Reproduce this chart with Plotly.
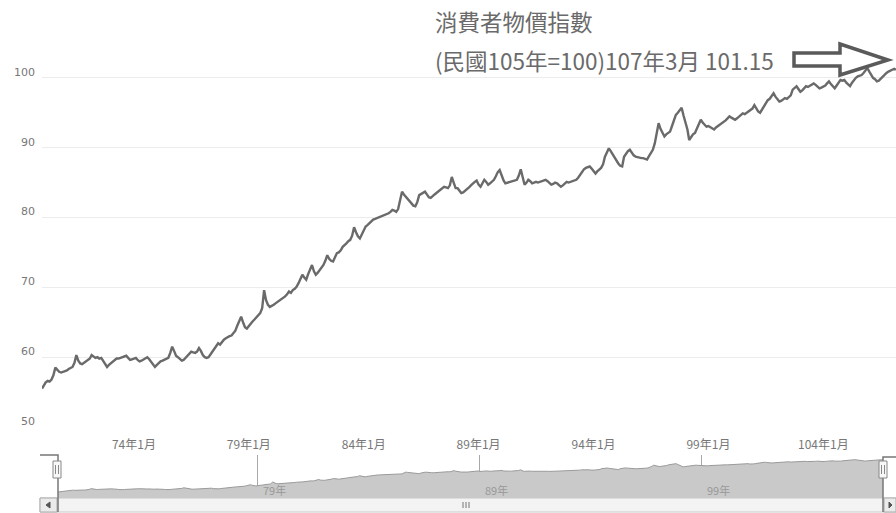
import pandas as pd
import plotly.graph_objects as go

# ---- data: monthly CPI (民國105年=100), 民國70年1月 .. 107年3月 ----
cpi_70 = [55.5, 55.9, 56.4, 56.6, 56.5, 56.8, 57.4, 58.5, 58.1, 57.9, 57.8, 57.9]
cpi_71 = [57.9, 58.1, 58.3, 58.4, 58.6, 59.2, 60.3, 59.5, 59.1, 59.0, 59.2, 59.4]
cpi_72 = [59.6, 59.8, 60.3, 60.1, 59.9, 60.0, 59.8, 59.9, 59.4, 59.0, 58.6, 58.9]
cpi_73 = [59.1, 59.4, 59.6, 59.8, 59.8, 59.9, 60.0, 60.1, 60.2, 59.9, 59.6, 59.7]
cpi_74 = [59.8, 59.9, 59.6, 59.4, 59.5, 59.7, 59.8, 60.0, 59.7, 59.3, 59.0, 58.6]
cpi_75 = [58.9, 59.2, 59.4, 59.5, 59.6, 59.7, 59.9, 60.6, 61.5, 60.9, 60.2, 60.0]
cpi_76 = [59.7, 59.5, 59.6, 59.9, 60.2, 60.5, 60.8, 60.7, 60.6, 60.8, 61.3, 60.9]
cpi_77 = [60.3, 60.0, 59.9, 60.0, 60.4, 60.8, 61.3, 61.7, 62.0, 61.8, 62.2, 62.5]
cpi_78 = [62.7, 62.9, 63.0, 63.1, 63.4, 63.8, 64.5, 65.1, 65.8, 65.0, 64.3, 64.1]
cpi_79 = [64.5, 64.8, 65.1, 65.4, 65.7, 66.0, 66.3, 67.0, 69.6, 68.2, 67.5, 67.2]
cpi_80 = [67.3, 67.5, 67.7, 67.9, 68.1, 68.3, 68.4, 68.7, 69.0, 69.4, 69.2, 69.6]
cpi_81 = [69.8, 70.1, 70.6, 71.2, 71.8, 71.4, 71.1, 71.9, 72.5, 73.2, 72.3, 71.8]
cpi_82 = [72.1, 72.5, 72.7, 73.2, 73.8, 74.6, 74.1, 73.8, 73.7, 74.2, 74.9, 75.0]
cpi_83 = [75.3, 75.8, 76.0, 76.3, 76.6, 76.8, 77.4, 78.6, 77.9, 77.3, 77.0, 77.6]
cpi_84 = [78.1, 78.7, 78.9, 79.2, 79.5, 79.7, 79.8, 79.9, 80.0, 80.1, 80.2, 80.3]
cpi_85 = [80.4, 80.6, 80.8, 81.1, 81.0, 80.8, 81.2, 82.5, 83.7, 83.3, 83.0, 82.6]
cpi_86 = [82.3, 82.0, 81.7, 81.6, 82.2, 83.2, 83.4, 83.6, 83.7, 83.3, 82.9, 82.8]
cpi_87 = [83.1, 83.3, 83.5, 83.7, 83.9, 84.2, 84.4, 84.3, 84.2, 84.6, 85.8, 85.0]
cpi_88 = [84.2, 84.2, 83.8, 83.5, 83.6, 83.8, 84.0, 84.3, 84.6, 84.9, 85.1, 85.3]
cpi_89 = [84.7, 84.4, 84.9, 85.4, 85.1, 84.7, 84.9, 85.2, 85.4, 85.9, 86.5, 86.8]
cpi_90 = [86.0, 85.3, 84.9, 85.0, 85.1, 85.1, 85.2, 85.3, 85.4, 86.0, 86.9, 85.8]
cpi_91 = [84.7, 85.0, 85.4, 85.2, 84.9, 85.0, 85.1, 85.0, 85.1, 85.2, 85.3, 85.4]
cpi_92 = [85.2, 84.9, 84.7, 84.8, 85.0, 84.9, 84.6, 84.4, 84.6, 84.8, 85.1, 85.0]
cpi_93 = [85.1, 85.1, 85.3, 85.4, 85.7, 86.1, 86.5, 86.9, 87.1, 87.2, 87.3, 87.0]
cpi_94 = [86.6, 86.3, 86.6, 86.9, 87.1, 87.6, 88.7, 89.3, 89.9, 89.5, 89.0, 88.5]
cpi_95 = [88.1, 87.7, 87.4, 87.3, 88.7, 89.2, 89.5, 89.7, 89.3, 88.9, 88.7, 88.6]
cpi_96 = [88.6, 88.5, 88.5, 88.4, 88.3, 88.8, 89.3, 89.7, 90.6, 91.8, 93.5, 92.7]
cpi_97 = [92.1, 91.6, 91.9, 92.1, 92.3, 93.1, 94.0, 94.7, 95.0, 95.4, 95.7, 94.6]
cpi_98 = [93.5, 92.6, 91.1, 91.6, 91.9, 92.1, 92.8, 93.4, 94.0, 93.6, 93.3, 93.0]
cpi_99 = [93.1, 92.9, 92.8, 92.6, 92.9, 93.1, 93.3, 93.4, 93.6, 93.9, 94.2, 94.5]
cpi_100 = [94.3, 94.1, 94.0, 94.2, 94.4, 94.6, 94.9, 94.8, 95.0, 95.2, 95.4, 95.6]
cpi_101 = [96.1, 95.7, 95.2, 95.0, 95.4, 95.8, 96.3, 96.8, 97.0, 97.4, 97.8, 97.3]
cpi_102 = [96.9, 96.6, 96.7, 96.9, 97.1, 97.0, 97.2, 97.5, 98.3, 98.5, 98.8, 98.4]
cpi_103 = [98.0, 98.2, 98.5, 98.8, 98.7, 98.9, 99.1, 99.2, 99.0, 98.7, 98.5, 98.6]
cpi_104 = [98.7, 98.9, 99.2, 99.5, 99.1, 98.7, 98.5, 98.9, 99.3, 99.7, 99.6, 99.7]
cpi_105 = [99.3, 99.0, 98.8, 99.3, 99.7, 100.0, 100.2, 100.3, 100.4, 100.7, 101.0, 101.4]
cpi_106 = [100.9, 100.4, 100.0, 99.8, 99.5, 99.6, 99.9, 100.2, 100.4, 100.7, 100.9, 101.0]
cpi_107 = [101.1, 101.3, 101.15]

x_tick_dates = ["1985-01-01", "1990-01-01", "1995-01-01", "2000-01-01",
                "2005-01-01", "2010-01-01", "2015-01-01"]
x_tick_labels = ["74年1月", "79年1月", "84年1月", "89年1月", "94年1月", "99年1月", "104年1月"]
y_tick_values = [50, 60, 70, 80, 90, 100, 110]
y_tick_labels = ["50", "60", "70", "80", "90", "100", ""]
nav_tick_dates = ["1990-01-01", "2000-01-01", "2010-01-01"]
nav_tick_labels = ["79年", "89年", "99年"]
title_line1 = "消費者物價指數"
title_line2 = "(民國105年=100)107年3月 101.15"

values = []
for yr in [cpi_70, cpi_71, cpi_72, cpi_73, cpi_74, cpi_75, cpi_76, cpi_77, cpi_78,
           cpi_79, cpi_80, cpi_81, cpi_82, cpi_83, cpi_84, cpi_85, cpi_86, cpi_87,
           cpi_88, cpi_89, cpi_90, cpi_91, cpi_92, cpi_93, cpi_94, cpi_95, cpi_96,
           cpi_97, cpi_98, cpi_99, cpi_100, cpi_101, cpi_102, cpi_103, cpi_104,
           cpi_105, cpi_106, cpi_107]:
    values.extend(yr)
dates = pd.date_range("1981-01-01", periods=len(values), freq="MS")

W, H = 896, 513
def px(x):
    return x / W
def py(y):
    return 1 - y / H

CJK = "Noto Sans CJK TC"
fig = go.Figure()
fig.add_trace(go.Scatter(x=dates, y=values, mode="lines",
                         line=dict(color="#6a6a6a", width=2.4),
                         xaxis="x", yaxis="y", hoverinfo="skip"))
fig.add_trace(go.Scatter(x=dates, y=values, mode="lines", fill="tozeroy",
                         fillcolor="#c9c9c9", line=dict(color="#9a9a9a", width=1),
                         xaxis="x2", yaxis="y2", hoverinfo="skip"))

x_range = [dates[0], dates[-1]]
fig.update_layout(
    width=W, height=H, margin=dict(l=0, r=0, t=0, b=0),
    paper_bgcolor="white", plot_bgcolor="white", showlegend=False,
    xaxis=dict(domain=[px(42), 1.0], range=x_range, tickvals=x_tick_dates,
               ticktext=x_tick_labels, showgrid=False, zeroline=False, showline=False,
               ticks="", tickfont=dict(family=CJK, size=12, color="#777"),
               ticklabelstandoff=9, fixedrange=True),
    yaxis=dict(domain=[py(427), py(8)], range=[50, 110], tickvals=y_tick_values,
               ticktext=y_tick_labels, showgrid=True, gridcolor="#ececec", gridwidth=1,
               zeroline=False, showline=False, ticks="",
               tickfont=dict(family="DejaVu Sans", size=11, color="#777"),
               ticklabelshift=-6, ticklabelstandoff=6, fixedrange=True),
    xaxis2=dict(domain=[px(58), px(883)], range=x_range, anchor="y2",
                tickvals=nav_tick_dates, showticklabels=False, showgrid=True,
                gridcolor="#a8a8a8", gridwidth=1, zeroline=False, showline=False,
                ticks="", fixedrange=True),
    yaxis2=dict(domain=[py(498), py(455)], range=[47, 108], anchor="x2",
                showgrid=False, showticklabels=False, zeroline=False, showline=False,
                fixedrange=True),
)

for d, lab in zip(nav_tick_dates, nav_tick_labels):
    fig.add_annotation(x=d, xref="x2", y=py(490), yref="paper", text=lab,
                       showarrow=False, xanchor="left", yanchor="middle", xshift=3,
                       font=dict(family=CJK, size=11, color="#999"))

fig.add_annotation(x=px(433), y=py(21), xref="paper", yref="paper", text=title_line1,
                   showarrow=False, xanchor="left", yanchor="middle",
                   font=dict(family=CJK, size=22.5, color="#6a6a6a"))
fig.add_annotation(x=px(433), y=py(60), xref="paper", yref="paper", text=title_line2,
                   showarrow=False, xanchor="left", yanchor="middle",
                   font=dict(family=CJK, size=22.5, color="#6a6a6a"))

shapes = []
# hollow arrow
pts = [(794, 53), (840, 53), (840, 44), (888, 60), (840, 75), (840, 66), (794, 66)]
path = "M " + " L ".join(f"{px(a):.5f},{py(b):.5f}" for a, b in pts) + " Z"
shapes.append(dict(type="path", path=path, xref="paper", yref="paper",
                   line=dict(color="#5a5a5a", width=3.5), fillcolor="white", layer="above"))
# scrollbar
shapes.append(dict(type="rect", xref="paper", yref="paper", x0=px(40), x1=px(896),
                   y0=py(512), y1=py(498), line=dict(color="#c8c8c8", width=1),
                   fillcolor="#f3f3f3", layer="above"))
shapes.append(dict(type="rect", xref="paper", yref="paper", x0=px(40), x1=px(57),
                   y0=py(512), y1=py(498), line=dict(color="#aaaaaa", width=1),
                   fillcolor="#ebebeb", layer="above"))
shapes.append(dict(type="rect", xref="paper", yref="paper", x0=px(884), x1=px(896),
                   y0=py(512), y1=py(498), line=dict(color="#aaaaaa", width=1),
                   fillcolor="#ebebeb", layer="above"))
shapes.append(dict(type="path", xref="paper", yref="paper",
                   path=f"M {px(50)},{py(502)} L {px(46)},{py(505)} L {px(50)},{py(508)} Z",
                   line=dict(color="#555", width=1), fillcolor="#555", layer="above"))
shapes.append(dict(type="path", xref="paper", yref="paper",
                   path=f"M {px(889)},{py(502)} L {px(892)},{py(505)} L {px(889)},{py(508)} Z",
                   line=dict(color="#555", width=1), fillcolor="#555", layer="above"))
for gx in (463, 466, 469):
    shapes.append(dict(type="line", xref="paper", yref="paper", x0=px(gx), x1=px(gx),
                       y0=py(502), y1=py(508), line=dict(color="#777", width=1), layer="above"))
# navigator outline
shapes.append(dict(type="path", xref="paper", yref="paper",
                   path=f"M {px(40)},{py(455)} L {px(58)},{py(455)} L {px(58)},{py(512)}",
                   line=dict(color="#777", width=1.5), layer="above"))
shapes.append(dict(type="path", xref="paper", yref="paper",
                   path=f"M {px(896)},{py(457)} L {px(883)},{py(457)} L {px(883)},{py(512)}",
                   line=dict(color="#777", width=1.5), layer="above"))
# handles
for hx in (57, 883):
    shapes.append(dict(type="rect", xref="paper", yref="paper", x0=px(hx - 4), x1=px(hx + 4),
                       y0=py(478), y1=py(461), line=dict(color="#888", width=1),
                       fillcolor="#f7f7f7", layer="above"))
    for lx in (hx - 1.5, hx + 1.5):
        shapes.append(dict(type="line", xref="paper", yref="paper", x0=px(lx), x1=px(lx),
                           y0=py(474), y1=py(465), line=dict(color="#888", width=1),
                           layer="above"))
fig.update_layout(shapes=shapes)

fig.write_html("out.html", config={"displayModeBar": False},
               post_script="document.body.style.margin='0';document.body.style.overflow='hidden';")
